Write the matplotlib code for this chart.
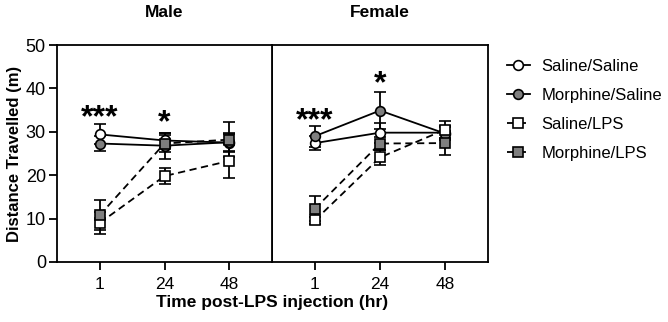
import matplotlib
matplotlib.use("Agg")
import matplotlib.pyplot as plt
from matplotlib.lines import Line2D

plt.rcParams['font.family'] = ['Liberation Sans', 'DejaVu Sans']

times = ["1", "24", "48"]
groups = ["Saline/Saline", "Morphine/Saline", "Saline/LPS", "Morphine/LPS"]

male_mean = {
    "Saline/Saline": [29.4, 28.0, 27.5],
    "Morphine/Saline": [27.3, 26.8, 27.6],
    "Saline/LPS": [9.0, 19.8, 23.3],
    "Morphine/LPS": [10.8, 27.3, 28.2],
}
male_sem = {
    "Saline/Saline": [2.3, 1.8, 2.0],
    "Morphine/Saline": [1.7, 3.0, 2.2],
    "Saline/LPS": [2.5, 1.8, 3.9],
    "Morphine/LPS": [3.4, 2.0, 4.0],
}
female_mean = {
    "Saline/Saline": [27.4, 29.8, 29.8],
    "Morphine/Saline": [29.0, 34.9, 29.6],
    "Saline/LPS": [9.6, 24.1, 30.5],
    "Morphine/LPS": [12.3, 27.3, 27.4],
}
female_sem = {
    "Saline/Saline": [1.6, 2.3, 1.5],
    "Morphine/Saline": [2.4, 4.2, 1.5],
    "Saline/LPS": [0.8, 1.7, 2.0],
    "Morphine/LPS": [2.9, 1.6, 2.8],
}
male_sig = [(0, "***", 33.2), (1, "*", 31.9)]
female_sig = [(0, "***", 32.5), (1, "*", 41.0)]

styles = {
    "Saline/Saline": dict(marker="o", mfc="white", ls="-"),
    "Morphine/Saline": dict(marker="o", mfc="#7f7f7f", ls="-"),
    "Saline/LPS": dict(marker="s", mfc="white", ls=(0, (4, 2.5))),
    "Morphine/LPS": dict(marker="s", mfc="#7f7f7f", ls=(0, (4, 2.5))),
}

W, H = 668, 322
fig = plt.figure(figsize=(W / 100, H / 100), dpi=100)
ax1 = fig.add_axes([57 / W, 1 - 262 / H, (272 - 57) / W, (262 - 45) / H])
ax2 = fig.add_axes([272 / W, 1 - 262 / H, (488 - 272) / W, (262 - 45) / H])

x = list(range(len(times)))
for ax, means, sems, sig, title in [(ax1, male_mean, male_sem, male_sig, "Male"),
                                     (ax2, female_mean, female_sem, female_sig, "Female")]:
    for g in groups:
        st = styles[g]
        ax.errorbar(x, means[g], yerr=sems[g], color="black", lw=1.3, ls=st["ls"],
                    marker=st["marker"], mfc=st["mfc"], mec="black", mew=1.2,
                    ms=7 if st["marker"] == "o" else 6.5,
                    ecolor="black", elinewidth=1.3, capsize=4, capthick=1.3)
    for i, s, yv in sig:
        ax.text(i, yv, s, ha="center", va="center", fontsize=23, fontweight="bold")
    ax.set_xlim(-0.66, 2.66)
    ax.set_ylim(0, 50)
    ax.set_xticks(x)
    ax.set_xticklabels(times, fontsize=12.5)
    ax.tick_params(axis="x", length=6, width=1.3, pad=5)
    for sp in ax.spines.values():
        sp.set_linewidth(1.3)
    ax.set_title(title, fontsize=12.5, fontweight="bold", pad=20)

ax1.set_yticks([0, 10, 20, 30, 40, 50])
ax1.tick_params(axis="y", length=6, width=1.3, labelsize=13, pad=2)
ax1.set_ylabel("Distance Travelled (m)", fontsize=12, fontweight="bold", labelpad=3)
ax2.set_yticks([])
ax1.set_zorder(1)

fig.text(272 / W, 1 - 303 / H, "Time post-LPS injection (hr)", ha="center", va="center",
         fontsize=12.5, fontweight="bold")

handles = []
for g in groups:
    st = styles[g]
    handles.append(Line2D([], [], color="black", lw=1.3, ls=st["ls"], marker=st["marker"],
                          mfc=st["mfc"], mec="black", mew=1.2,
                          ms=7 if st["marker"] == "o" else 6.5))
fig.legend(handles, groups, loc="upper left", bbox_to_anchor=(500 / W, 1 - 52 / H),
           frameon=False, fontsize=12, handlelength=1.4, labelspacing=0.85,
           handletextpad=0.7, borderaxespad=0)

fig.savefig("out.png", dpi=100)
